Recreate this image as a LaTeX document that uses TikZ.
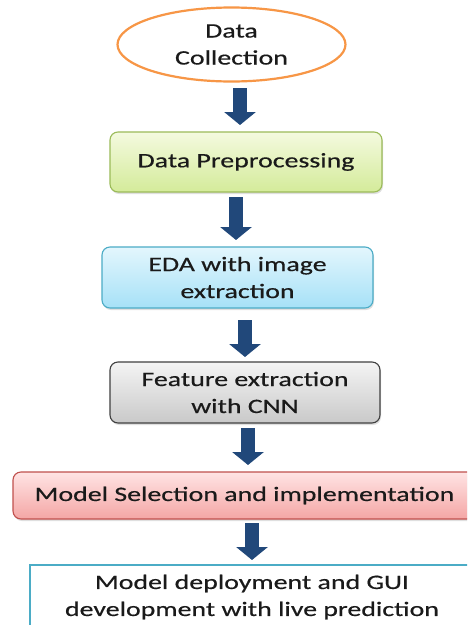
\documentclass[tikz,border=0pt]{standalone}
\usepackage{fontspec}
\setmainfont{Carlito}[FakeStretch=1.36,FakeBold=0.5]
\usetikzlibrary{shapes.geometric,arrows.meta,shadows}
\definecolor{txt}{HTML}{1A1A1A}
\definecolor{orangeb}{HTML}{F79646}
\definecolor{greenb}{HTML}{9BBB59}
\definecolor{greent}{HTML}{F4FADF}
\definecolor{greenbot}{HTML}{D4EB9A}
\definecolor{blueb}{HTML}{4BACC6}
\definecolor{bluet}{HTML}{E3F6FD}
\definecolor{bluebot}{HTML}{A6E1F7}
\definecolor{grayb}{HTML}{404040}
\definecolor{grayt}{HTML}{F4F4F4}
\definecolor{graybot}{HTML}{C9C9C9}
\definecolor{redb}{HTML}{C0504D}
\definecolor{redt}{HTML}{FFE4E4}
\definecolor{redbot}{HTML}{F4A6A5}
\definecolor{arrowc}{HTML}{21487A}
\tikzset{
  lbl/.style={font=\fontsize{20.5}{27}\selectfont, text=txt, align=center, inner sep=0pt},
  stepbox/.style={lbl, rectangle, rounded corners=8pt, line width=1.1pt,
    drop shadow={shadow xshift=1pt, shadow yshift=-2pt, opacity=0.25}},
  bigarrow/.style={arrowc, line width=14pt, -{Triangle[width=31pt,length=13pt]}}
}
\begin{document}
\begin{tikzpicture}[x=1pt,y=-1pt]
\clip (0,0) rectangle (467,625);
\fill[white] (0,0) rectangle (467,625);

\node[lbl, ellipse, draw=orangeb, line width=2.2pt, fill=white,
      minimum width=228pt, minimum height=74pt] (n1) at (231.5,44.5) {Data\\Collection};

\node[stepbox, draw=greenb, top color=greent, bottom color=greenbot,
      minimum width=272pt, minimum height=60pt] (n2) at (246,162) {Data Preprocessing};

\node[stepbox, draw=blueb, top color=bluet, bottom color=bluebot,
      minimum width=271pt, minimum height=61pt] (n3) at (237.5,277.5) {EDA with image\\extraction};

\node[stepbox, draw=grayb, top color=grayt, bottom color=graybot,
      minimum width=270pt, minimum height=61pt] (n4) at (245,392.5) {Feature extraction\\with CNN};

\node[stepbox, draw=redb, top color=redt, bottom color=redbot,
      minimum width=470pt, minimum height=47pt] (n5) at (248,495.5) {Model Selection and implementation\hspace*{7pt}};

\node[lbl, rectangle, draw=blueb, line width=2.4pt, fill=white,
      minimum width=444pt, minimum height=64pt] (n6) at (252,597) {Model deployment and GUI\\development with live prediction};

\coordinate (a1s) at (240,88);  \coordinate (a1e) at (240,125);
\coordinate (a2s) at (236,197); \coordinate (a2e) at (236,240);
\coordinate (a3s) at (245,320); \coordinate (a3e) at (245,357);
\coordinate (a4s) at (248,428); \coordinate (a4e) at (248,465);
\coordinate (a5s) at (252,523); \coordinate (a5e) at (252,560);

\draw[bigarrow] (a1s) -- (a1e);
\draw[bigarrow] (a2s) -- (a2e);
\draw[bigarrow] (a3s) -- (a3e);
\draw[bigarrow] (a4s) -- (a4e);
\draw[bigarrow] (a5s) -- (a5e);
\end{tikzpicture}
\end{document}
